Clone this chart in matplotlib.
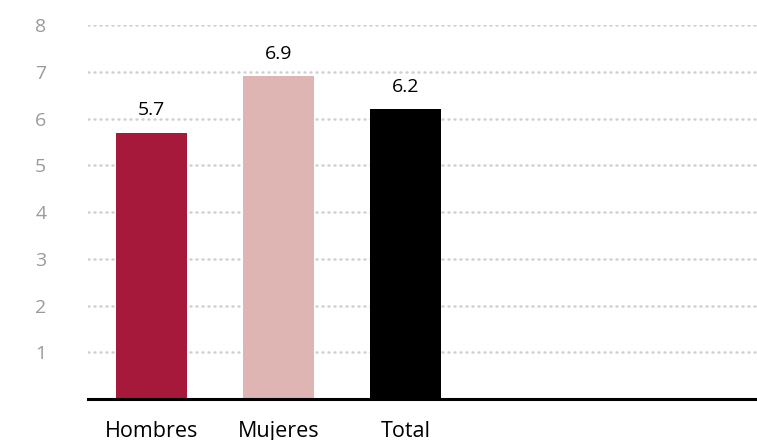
import matplotlib.pyplot as plt

categories = ["Hombres", "Mujeres", "Total"]
values = [5.7, 6.9, 6.2]
colors = ["#A6193A", "#DFB5B3", "#000000"]
yticks = [1, 2, 3, 4, 5, 6, 7, 8]

plt.rcParams["font.family"] = ["Open Sans", "DejaVu Sans"]

fig = plt.figure(figsize=(7.57, 4.40), dpi=100)
ax = fig.add_axes([88 / 757, 1 - 399 / 440, 1 - 88 / 757, (399 - 25) / 440])

x = list(range(len(categories)))
bars = ax.bar(x, values, width=0.56, color=colors, zorder=3)

for xi, v in zip(x, values):
    ax.text(xi, v + 0.28, f"{v:.1f}", ha="center", va="bottom", fontsize=14, color="black")

ax.set_xlim(-0.5, 4.77)
ax.set_ylim(0, 8)
ax.set_yticks(yticks)
ax.set_yticklabels([str(t) for t in yticks])
ax.set_xticks(x)
ax.set_xticklabels(categories)

# light dotted horizontal grid
ax.yaxis.grid(True, color="#d0d0d0", linestyle=(0, (0.4, 2.0)), linewidth=1.8,
              dash_capstyle="round", zorder=0)
for spine in ["top", "right", "left"]:
    ax.spines[spine].set_visible(False)
ax.spines["bottom"].set_linewidth(2.2)
ax.spines["bottom"].set_color("black")
ax.spines["bottom"].set_zorder(4)

ax.tick_params(axis="y", length=0, pad=30, labelsize=14, labelcolor="#9a9a9a")
ax.tick_params(axis="x", length=0, pad=16, labelsize=15.5, labelcolor="black")

fig.savefig("out.png", dpi=100)
